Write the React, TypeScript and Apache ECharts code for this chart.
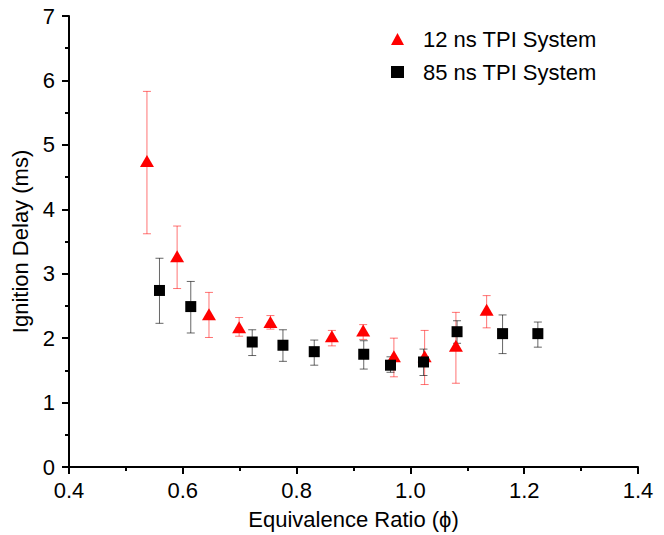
import React, { useEffect, useRef } from "react";
import * as echarts from "echarts";

const redName = "12 ns TPI System";
const blackName = "85 ns TPI System";

const redX = [0.537, 0.59, 0.646, 0.699, 0.754, 0.862, 0.917, 0.971, 1.025, 1.08, 1.134];
const redY = [4.75, 3.27, 2.37, 2.17, 2.25, 2.03, 2.12, 1.72, 1.72, 1.88, 2.44];
const redLo = [3.62, 2.77, 2.01, 2.03, 2.14, 1.88, 1.98, 1.4, 1.28, 1.3, 2.16];
const redHi = [5.83, 3.74, 2.71, 2.32, 2.35, 2.12, 2.21, 2.0, 2.12, 2.4, 2.66];

const blackX = [0.559, 0.614, 0.722, 0.776, 0.831, 0.918, 0.965, 1.023, 1.082, 1.162, 1.224];
const blackY = [2.74, 2.49, 1.94, 1.89, 1.79, 1.75, 1.58, 1.63, 2.1, 2.07, 2.07];
const blackLo = [2.23, 2.08, 1.73, 1.64, 1.58, 1.52, 1.47, 1.42, 1.92, 1.76, 1.86];
const blackHi = [3.24, 2.88, 2.13, 2.13, 1.97, 1.96, 1.71, 1.83, 2.27, 2.36, 2.25];

const FONT = "'Liberation Sans', Arial, sans-serif";

function errorSeries(xs: number[], lo: number[], hi: number[], color: string, opacity: number) {
  return {
    type: "custom",
    silent: true,
    z: 1,
    data: xs.map((x, i) => [x, lo[i], hi[i]]),
    renderItem: (params: any, api: any) => {
      const x = api.value(0);
      const pLo = api.coord([x, api.value(1)]);
      const pHi = api.coord([x, api.value(2)]);
      const cap = 4;
      const style = { stroke: color, lineWidth: 1, opacity };
      return {
        type: "group",
        children: [
          { type: "line", shape: { x1: pLo[0], y1: pLo[1], x2: pHi[0], y2: pHi[1] }, style },
          { type: "line", shape: { x1: pLo[0] - cap, y1: pLo[1], x2: pLo[0] + cap, y2: pLo[1] }, style },
          { type: "line", shape: { x1: pHi[0] - cap, y1: pHi[1], x2: pHi[0] + cap, y2: pHi[1] }, style },
        ],
      };
    },
  };
}

export default function App() {
  const ref = useRef<HTMLDivElement>(null);
  useEffect(() => {
    if (!ref.current) return;
    const chart = echarts.init(ref.current, undefined, { renderer: "svg" });
    const axisCommon = {
      axisLine: { show: true, lineStyle: { color: "#000", width: 2 } },
      axisTick: { show: true, length: 7, inside: false, lineStyle: { color: "#000", width: 2 } },
      minorTick: { show: true, splitNumber: 2, length: 4, lineStyle: { color: "#000", width: 2 } },
      splitLine: { show: false },
      nameTextStyle: { fontFamily: FONT, fontSize: 22, color: "#000" },
    };
    chart.setOption({
      animation: false,
      backgroundColor: "#ffffff",
      grid: { left: 69, right: 26, top: 16, bottom: 67 },
      legend: {
        orient: "vertical",
        left: 386,
        top: 23,
        itemWidth: 13,
        itemHeight: 12,
        itemGap: 11,
        textStyle: { fontFamily: FONT, fontSize: 22, color: "#000", padding: [0, 0, 0, 14] },
        data: [
          { name: redName, icon: "triangle" },
          { name: blackName, icon: "rect" },
        ],
      },
      xAxis: {
        ...axisCommon,
        type: "value",
        min: 0.4,
        max: 1.4,
        interval: 0.2,
        name: "Equivalence Ratio (\u03d5)",
        nameLocation: "middle",
        nameGap: 41,
        axisLabel: {
          fontFamily: FONT,
          fontSize: 22,
          color: "#000",
          margin: 12,
          formatter: (v: number) => v.toFixed(1),
        },
      },
      yAxis: {
        ...axisCommon,
        type: "value",
        min: 0,
        max: 7,
        interval: 1,
        name: "Ignition Delay (ms)",
        nameLocation: "middle",
        nameGap: 36,
        axisLabel: { fontFamily: FONT, fontSize: 22, color: "#000", margin: 14 },
      },
      series: [
        errorSeries(redX, redLo, redHi, "#ff0000", 0.55),
        {
          name: redName,
          type: "scatter",
          symbol: "triangle",
          symbolSize: [14, 12],
          z: 2,
          itemStyle: { color: "#ff0000", opacity: 1 },
          data: redX.map((x, i) => [x, redY[i]]),
        },
        errorSeries(blackX, blackLo, blackHi, "#000000", 0.6),
        {
          name: blackName,
          type: "scatter",
          symbol: "rect",
          symbolSize: 11,
          z: 3,
          itemStyle: { color: "#000000", opacity: 1 },
          data: blackX.map((x, i) => [x, blackY[i]]),
        },
      ],
    });
    return () => chart.dispose();
  }, []);
  return <div ref={ref} style={{ width: 664, height: 535, position: "absolute", left: 0, top: 0 }} />;
}
